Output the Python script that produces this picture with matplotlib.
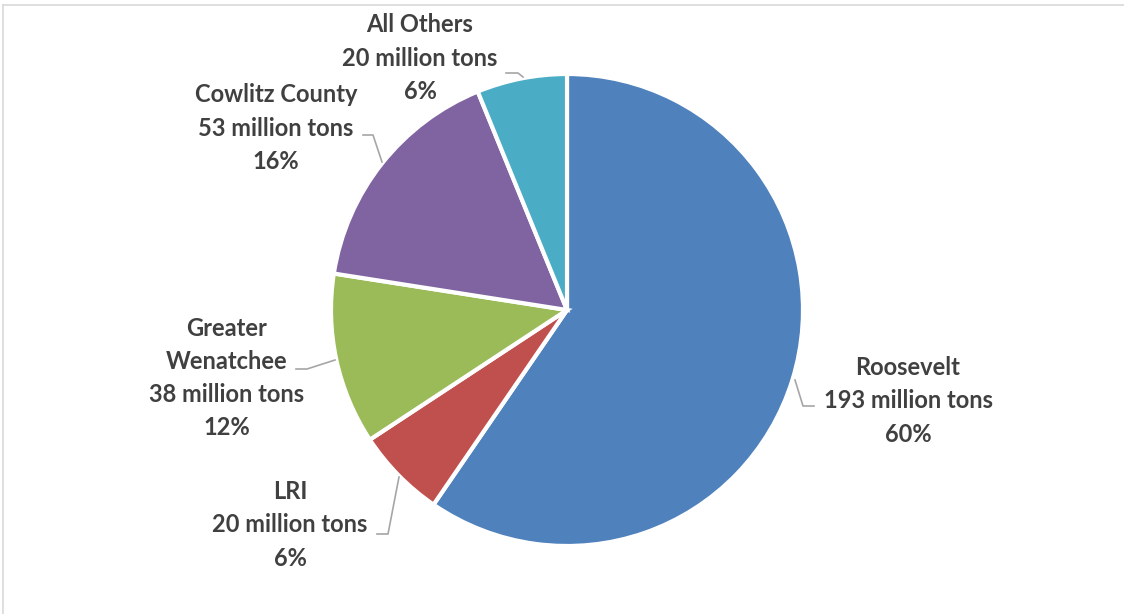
import matplotlib
matplotlib.use("Agg")
import matplotlib.pyplot as plt

categories = ["Roosevelt", "LRI", "Greater\nWenatchee", "Cowlitz County", "All Others"]
values = [193, 20, 38, 53, 20]
units = "million tons"
colors = ["#4F81BD", "#C0504D", "#9BBB59", "#8064A2", "#4BACC6"]

W, H = 1124, 614
fig = plt.figure(figsize=(W / 100, H / 100), dpi=100)
ax = fig.add_axes([0, 0, 1, 1])
ax.set_xlim(0, W)
ax.set_ylim(0, H)
ax.set_aspect("equal")
ax.axis("off")

cx, cy, r = 567, H - 310, 236
ax.pie(values, colors=colors, startangle=90, counterclock=False,
       center=(cx, cy), radius=r, frame=True,
       wedgeprops=dict(edgecolor="white", linewidth=3))
ax.set_xlim(0, W)
ax.set_ylim(0, H)
ax.axis("off")

# frame
ax.plot([3, 3], [0, H - 5], color="#D9D9D9", lw=1.2)
ax.plot([3, W], [H - 5, H - 5], color="#D9D9D9", lw=1.2)

total = sum(values)
label_pos = [(908, 401), (290, 525), (227, 378), (276, 128), (420, 58)]
leaders = [
    [(795, 380), (803, 406), (814, 406)],
    [(399, 477), (388, 534), (377, 534)],
    [(335, 360), (307, 369), (296, 369)],
    [(382, 162), (373, 135), (363, 135)],
    [(523, 77), (518, 73), (506, 73)],
]
for cat, v, (lx, ly), pts in zip(categories, values, label_pos, leaders):
    pct = round(100 * v / total)
    txt = f"{cat}\n{v} {units}\n{pct}%"
    ax.text(lx, H - ly, txt, ha="center", va="center", fontsize=17,
            fontweight="bold", color="#404040", family="Lato",
            linespacing=1.54)
    xs = [p[0] for p in pts]
    ys = [H - p[1] for p in pts]
    ax.plot(xs, ys, color="#A6A6A6", lw=1.2)

fig.savefig("out.png", dpi=100)
